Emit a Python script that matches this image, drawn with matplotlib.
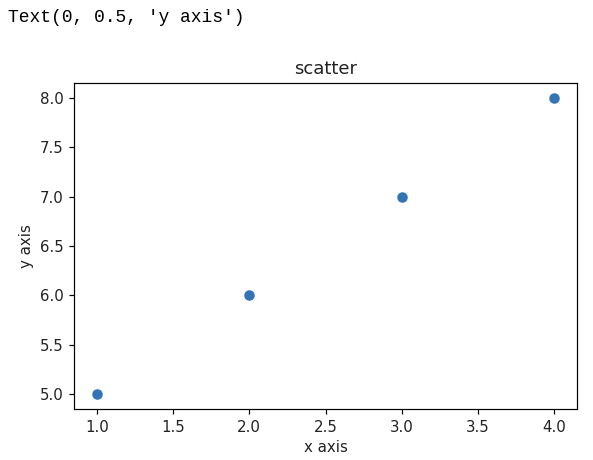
import matplotlib
matplotlib.use("Agg")
import matplotlib.pyplot as plt

x_vals = [1, 2, 3, 4]
y_vals = [5, 6, 7, 8]
title = "scatter"
x_label = "x axis"
y_label = "y axis"
output_text = "Text(0, 0.5, 'y axis')"

DPI = 108
fig = plt.figure(figsize=(593 / DPI, 460 / DPI), dpi=DPI)
ax = fig.add_axes([74/593, 51/460, 503/593, 326/460])
ax.scatter(x_vals, y_vals, s=36, color="#3274b4", linewidths=1.0)
ax.set_title(title, fontsize=12, color="#222222")
ax.set_xlabel(x_label, fontsize=10, color="#222222")
ax.set_ylabel(y_label, fontsize=10, color="#222222")
ax.set_xticks([1.0, 1.5, 2.0, 2.5, 3.0, 3.5, 4.0])
ax.set_yticks([5.0, 5.5, 6.0, 6.5, 7.0, 7.5, 8.0])
ax.tick_params(labelsize=10, labelcolor="#222222")
fig.text(8/593, 1 - 18/460, output_text, family="Liberation Mono", fontsize=12,
         va="center", ha="left", color="black")
fig.savefig("out.png", dpi=DPI)
